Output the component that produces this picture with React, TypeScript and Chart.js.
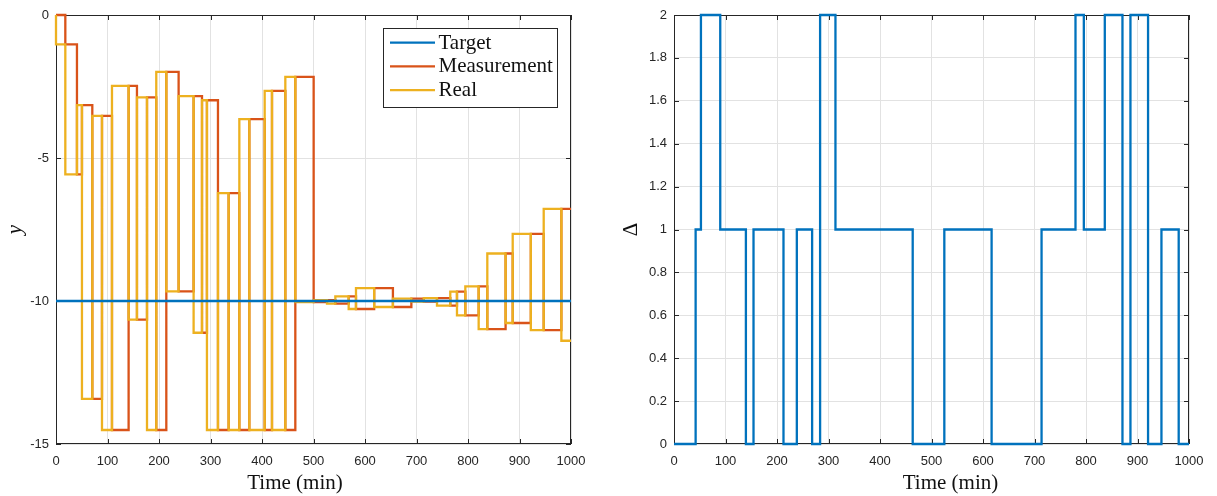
import React, { useEffect, useRef } from "react";
import { Chart, registerables } from "chart.js";

Chart.register(...registerables);

// ---------------- data ----------------
// switching instants (min) of the left plot; each value holds from its time to the next one
const stepTimes = [
  0, 0, 18.1, 40.7, 50.4, 70.5, 89.3, 108.7, 141.0, 157.2, 176.7, 194.7, 214.2, 238.1,
  267.2, 283.5, 293.1, 314.5, 335.2, 356.0, 375.4, 405.2, 419.4, 445.3, 464.7, 500.3,
  526.2, 542.4, 568.3, 582.5, 617.8, 654.2, 690.0, 714.0, 739.8, 765.6, 778.6, 794.8,
  820.7, 837.5, 873.0, 886.8, 922.0, 947.0, 981.3, 1000,
];
const realValues = [
  0, -1.03, -5.57, -3.15, -13.42, -3.53, -14.51, -2.48, -10.65, -2.88, -14.51, -1.99,
  -9.66, -2.84, -11.11, -2.98, -14.51, -6.23, -14.51, -3.64, -14.51, -2.65, -14.51,
  -2.16, -10.04, -9.97, -10.09, -9.84, -10.28, -9.55, -10.21, -9.92, -10.02, -9.9,
  -10.16, -9.67, -10.5, -9.49, -10.98, -8.34, -10.77, -7.65, -11.02, -6.78, -11.39,
  -11.39,
];
const measurementValues = [
  0, 0, -1.03, -5.57, -3.15, -13.42, -3.53, -14.51, -2.48, -10.65, -2.88, -14.51,
  -1.99, -9.66, -2.84, -11.11, -2.98, -14.51, -6.23, -14.51, -3.64, -14.51, -2.65,
  -14.51, -2.16, -10.04, -9.97, -10.09, -9.84, -10.28, -9.55, -10.21, -9.92, -10.02,
  -9.9, -10.16, -9.67, -10.5, -9.49, -10.98, -8.34, -10.77, -7.65, -11.02, -6.78, -6.78,
];
const targetTimes = [0, 1000];
const targetValues = [-10, -10];

const deltaTimes = [
  0, 42, 52.3, 89.8, 139.6, 154.4, 212.6, 238.5, 268.2, 283.7, 313.5, 463.5, 524.9,
  616.7, 713.7, 779.6, 795.8, 836.5, 870.8, 886.3, 920.5, 946.5, 980, 1000,
];
const deltaValues = [0, 1, 2, 1, 0, 1, 0, 1, 0, 2, 1, 0, 1, 0, 1, 2, 1, 2, 0, 2, 0, 1, 0, 0];

const timeTicks = [0, 100, 200, 300, 400, 500, 600, 700, 800, 900, 1000];
const yTicks = [-15, -10, -5, 0];
const deltaTicks = [0, 0.2, 0.4, 0.6, 0.8, 1, 1.2, 1.4, 1.6, 1.8, 2];

const seriesLabels = ["Target", "Measurement", "Real"];
const xTitle = "Time (min)";
const yTitleLeft = "y";
const yTitleRight = "Δ";

// ---------------- style ----------------
const BLUE = "#0072BD";
const ORANGE = "#D95319";
const YELLOW = "#EDB120";
const AXIS = "#262626";
const GRID = "#e2e2e2";
const SANS = "'Liberation Sans', Arial, Helvetica, sans-serif";
const SERIF = "'Liberation Serif', 'Times New Roman', serif";

const pts = (xs: number[], ys: number[]) => xs.map((x, i) => ({ x, y: ys[i] }));

const framePlugin = {
  id: "frame",
  beforeDatasetsDraw(chart: any) {
    const { ctx, chartArea: a, scales } = chart;
    const len = 5;
    ctx.save();
    ctx.strokeStyle = AXIS;
    ctx.lineWidth = 1;
    ctx.strokeRect(a.left + 0.5, a.top + 0.5, a.right - a.left - 1, a.bottom - a.top - 1);
    ctx.beginPath();
    scales.x.ticks.forEach((t: any) => {
      const x = Math.round(scales.x.getPixelForValue(t.value)) + 0.5;
      ctx.moveTo(x, a.bottom);
      ctx.lineTo(x, a.bottom - len);
      ctx.moveTo(x, a.top);
      ctx.lineTo(x, a.top + len);
    });
    scales.y.ticks.forEach((t: any) => {
      const y = Math.round(scales.y.getPixelForValue(t.value)) + 0.5;
      ctx.moveTo(a.left, y);
      ctx.lineTo(a.left + len, y);
      ctx.moveTo(a.right, y);
      ctx.lineTo(a.right - len, y);
    });
    ctx.stroke();
    ctx.restore();
  },
};

const titlePlugin = {
  id: "axisTitles",
  afterDraw(chart: any, _args: any, opts: any) {
    const { ctx, chartArea: a } = chart;
    ctx.save();
    ctx.fillStyle = "#111";
    ctx.textAlign = "center";
    ctx.textBaseline = "middle";
    ctx.font = `21px ${SERIF}`;
    ctx.fillText(opts.xText, (a.left + a.right) / 2 + opts.xShift, opts.xY);
    ctx.translate(opts.yX, (a.top + a.bottom) / 2);
    ctx.rotate(-Math.PI / 2);
    ctx.font = `${opts.yItalic ? "italic " : ""}21px ${SERIF}`;
    ctx.fillText(opts.yText, 0, 0);
    ctx.restore();
  },
};

const legendPlugin = {
  id: "insideLegend",
  afterDraw(chart: any, _args: any, opts: any) {
    if (!opts.show) return;
    const { ctx, chartArea: a } = chart;
    const x0 = a.right - 188;
    const y0 = a.top + 13;
    const w = 174;
    const h = 79;
    ctx.save();
    ctx.fillStyle = "#fff";
    ctx.fillRect(x0, y0, w, h);
    ctx.strokeStyle = AXIS;
    ctx.lineWidth = 1;
    ctx.strokeRect(x0 + 0.5, y0 + 0.5, w, h);
    ctx.font = `21px ${SERIF}`;
    ctx.textAlign = "left";
    ctx.textBaseline = "middle";
    chart.data.datasets.forEach((ds: any, i: number) => {
      const y = y0 + 14.7 + i * 23.7;
      ctx.strokeStyle = ds.borderColor;
      ctx.lineWidth = 2.2;
      ctx.beginPath();
      ctx.moveTo(x0 + 7, y);
      ctx.lineTo(x0 + 52, y);
      ctx.stroke();
      ctx.fillStyle = "#111";
      ctx.fillText(ds.label, x0 + 55.5, y + 0.5);
    });
    ctx.restore();
  },
};

function axisCommon(ticksArr: number[], fmt: (v: number) => string, pad: number) {
  return {
    type: "linear",
    afterBuildTicks: (s: any) => {
      s.ticks = ticksArr.map((v) => ({ value: v }));
    },
    ticks: {
      autoSkip: false,
      maxRotation: 0,
      minRotation: 0,
      padding: pad,
      color: AXIS,
      font: { family: SANS, size: 13 },
      callback: (v: any) => fmt(Number(v)),
    },
    grid: { color: GRID, lineWidth: 1, drawTicks: false },
    border: { display: false },
  };
}

function lineDs(label: string, data: any[], color: string, order: number, stepped: boolean) {
  return {
    label,
    data,
    borderColor: color,
    backgroundColor: color,
    borderWidth: 2.3,
    pointRadius: 0,
    pointHoverRadius: 0,
    fill: false,
    tension: 0,
    stepped: stepped ? "before" : false,
    clip: false,
    order,
  };
}

export default function App() {
  const leftRef = useRef<HTMLCanvasElement | null>(null);
  const rightRef = useRef<HTMLCanvasElement | null>(null);

  useEffect(() => {
    const left = new Chart(leftRef.current as HTMLCanvasElement, {
      type: "line",
      data: {
        datasets: [
          lineDs(seriesLabels[0], pts(targetTimes, targetValues), BLUE, 0, false),
          lineDs(seriesLabels[1], pts(stepTimes, measurementValues), ORANGE, 2, true),
          lineDs(seriesLabels[2], pts(stepTimes, realValues), YELLOW, 1, true),
        ],
      } as any,
      options: {
        animation: false,
        responsive: false,
        devicePixelRatio: 1,
        events: [],
        layout: { padding: { left: 0, top: 15, right: 37, bottom: 0 } },
        scales: {
          x: {
            ...axisCommon(timeTicks, (v) => String(v), 10),
            min: 0,
            max: 1000,
            afterFit: (s: any) => {
              s.height = 52;
            },
          },
          y: {
            ...axisCommon(yTicks, (v) => String(v), 7),
            min: -15,
            max: 0,
            afterFit: (s: any) => {
              s.width = 56;
            },
          },
        },
        plugins: {
          legend: { display: false },
          tooltip: { enabled: false },
          axisTitles: { xText: xTitle, xShift: -18.5, xY: 483, yText: yTitleLeft, yX: 15.5, yItalic: true },
          insideLegend: { show: true },
        },
      } as any,
      plugins: [framePlugin, titlePlugin, legendPlugin],
    });

    const right = new Chart(rightRef.current as HTMLCanvasElement, {
      type: "line",
      data: {
        datasets: [lineDs("Δ", pts(deltaTimes, deltaValues), BLUE, 0, true)],
      } as any,
      options: {
        animation: false,
        responsive: false,
        devicePixelRatio: 1,
        events: [],
        layout: { padding: { left: 0, top: 15, right: 28, bottom: 0 } },
        scales: {
          x: {
            ...axisCommon(timeTicks, (v) => String(v), 10),
            min: 0,
            max: 1000,
            afterFit: (s: any) => {
              s.height = 52;
            },
          },
          y: {
            ...axisCommon(deltaTicks, (v) => String(Math.round(v * 10) / 10), 7),
            min: 0,
            max: 2,
            afterFit: (s: any) => {
              s.width = 66;
            },
          },
        },
        plugins: {
          legend: { display: false },
          tooltip: { enabled: false },
          axisTitles: { xText: xTitle, xShift: 19, xY: 483, yText: yTitleRight, yX: 23, yItalic: false },
          insideLegend: { show: false },
        },
      } as any,
      plugins: [framePlugin, titlePlugin, legendPlugin],
    });

    return () => {
      left.destroy();
      right.destroy();
    };
  }, []);

  return (
    <div style={{ position: "absolute", left: 0, top: 0, width: 1217, height: 496, background: "#fff" }}>
      <canvas ref={leftRef} width={608} height={496} style={{ position: "absolute", left: 0, top: 0 }} />
      <canvas ref={rightRef} width={609} height={496} style={{ position: "absolute", left: 608, top: 0 }} />
    </div>
  );
}
